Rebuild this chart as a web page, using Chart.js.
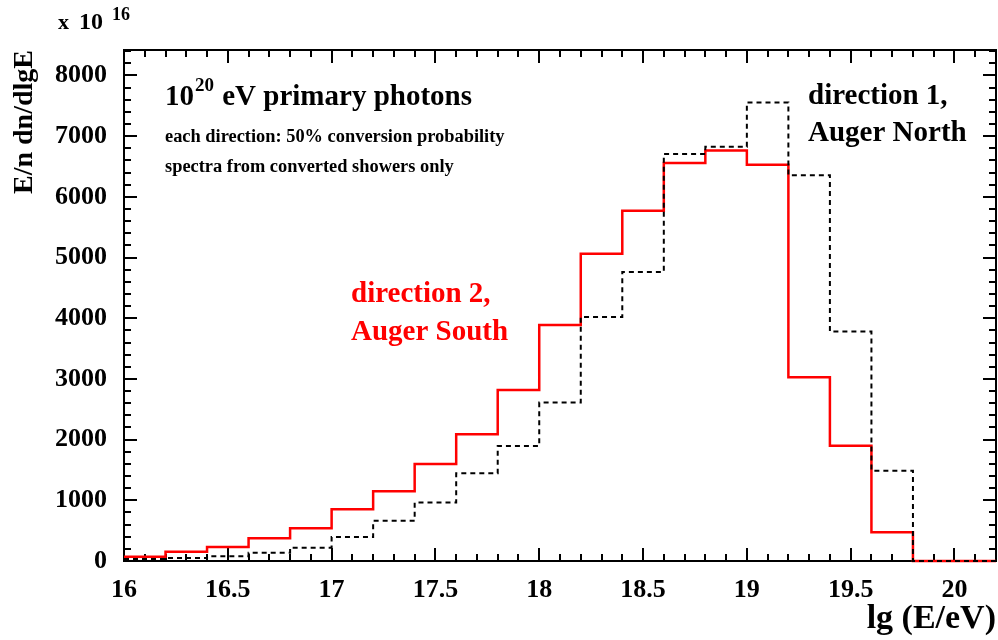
<!DOCTYPE html>
<html>
<head>
<meta charset="utf-8">
<script src="https://cdn.jsdelivr.net/npm/chart.js@4.4.0/dist/chart.umd.min.js"></script>
<style>
html, body { margin: 0; padding: 0; background: #fff; }
</style>
</head>
<body>
<canvas id="spectrum" width="998" height="640"></canvas>
<script>
// bin edges of the histograms (lg E)
const binEdges = [16.0, 16.2, 16.4, 16.6, 16.8, 17.0, 17.2, 17.4, 17.6, 17.8, 18.0,
                  18.2, 18.4, 18.6, 18.8, 19.0, 19.2, 19.4, 19.6, 19.8, 20.0, 20.2];
// direction 1, Auger North (black dashed)
const north = [33, 49, 77, 137, 220, 396, 665, 964, 1445, 1896, 2610,
               4020, 4764, 6705, 6825, 7555, 6358, 3780, 1489, 0, 0];
// direction 2, Auger South (red)
const south = [71, 153, 231, 374, 539, 852, 1149, 1599, 2088, 2819, 3890,
               5061, 5770, 6556, 6764, 6528, 3028, 1901, 473, 0, 0];
const xTickLabels = [16, 16.5, 17, 17.5, 18, 18.5, 19, 19.5, 20];
const yTickLabels = [0, 1000, 2000, 3000, 4000, 5000, 6000, 7000, 8000];

const FONT = '"Liberation Serif", "Times New Roman", serif';

function toSteps(vals) {
    let pts = vals.map(function(v, i) { return { x: binEdges[i], y: v } });
    pts.push({ x: binEdges[binEdges.length - 1], y: vals[vals.length - 1] });
    return pts;
}

// ROOT style frame with ticks pointing inside, on all four sides
const frameTicks = {
    id: 'frameTicks',
    beforeDatasetsDraw(chart) {
        const ctx = chart.ctx;
        const a = chart.chartArea;
        const xs = chart.scales.x, ys = chart.scales.y;
        ctx.save();
        ctx.strokeStyle = '#000';
        ctx.lineWidth = 2;
        ctx.strokeRect(a.left, a.top, a.right - a.left, a.bottom - a.top);
        ctx.beginPath();
        for (let k = 160; k <= 202; k++) {
            let px = Math.round(xs.getPixelForValue(k / 10));
            let len = (k % 5 === 0) ? 13 : 7;
            ctx.moveTo(px, a.bottom); ctx.lineTo(px, a.bottom - len);
            ctx.moveTo(px, a.top); ctx.lineTo(px, a.top + len);
        }
        for (let v = 0; v <= 8400; v += 200) {
            let py = Math.round(ys.getPixelForValue(v));
            let len = (v % 1000 === 0) ? 13 : 7;
            ctx.moveTo(a.left, py); ctx.lineTo(a.left + len, py);
            ctx.moveTo(a.right, py); ctx.lineTo(a.right - len, py);
        }
        ctx.stroke();
        ctx.restore();
    },
    afterDraw(chart) {
        const ctx = chart.ctx;
        ctx.save();
        ctx.textBaseline = 'alphabetic';
        ctx.textAlign = 'left';
        ctx.fillStyle = '#000';

        // x 10^16 multiplier
        ctx.font = 'bold 22px ' + FONT;
        ctx.fillText('x', 58, 29);
        ctx.font = 'bold 24px ' + FONT;
        ctx.fillText('10', 79, 29);
        ctx.font = 'bold 18px ' + FONT;
        ctx.fillText('16', 112, 20);

        // 10^20 eV primary photons
        ctx.font = 'bold 29px ' + FONT;
        ctx.fillText('10', 165, 105);
        let w = ctx.measureText('10').width;
        ctx.font = 'bold 19px ' + FONT;
        ctx.fillText('20', 165 + w + 1, 91);
        let w2 = ctx.measureText('20').width;
        ctx.font = 'bold 29px ' + FONT;
        ctx.fillText(' eV primary photons', 165 + w + w2 + 2, 105);

        ctx.font = 'bold 18.4px ' + FONT;
        ctx.fillText('each direction: 50% conversion probability', 165, 142);
        ctx.fillText('spectra from converted showers only', 165, 172);

        ctx.font = 'bold 29px ' + FONT;
        ctx.fillText('direction 1,', 808, 104);
        ctx.fillText('Auger North', 808, 141);

        ctx.fillStyle = '#ff0000';
        ctx.fillText('direction 2,', 351, 302);
        ctx.fillText('Auger South', 351, 340);
        ctx.restore();
    }
};

new Chart(document.getElementById('spectrum'), {
    type: 'line',
    data: {
        datasets: [
            {
                label: 'direction 1, Auger North',
                data: toSteps(north),
                stepped: 'before',
                borderColor: '#000',
                borderWidth: 2,
                borderDash: [5, 4],
                pointRadius: 0,
                fill: false,
                clip: false,
                order: 1
            },
            {
                label: 'direction 2, Auger South',
                data: toSteps(south),
                stepped: 'before',
                borderColor: '#ff0000',
                borderWidth: 2.5,
                pointRadius: 0,
                fill: false,
                clip: false,
                order: 2
            }
        ]
    },
    options: {
        responsive: false,
        animation: false,
        layout: { padding: { top: 50, right: 2, left: 0, bottom: 0 } },
        plugins: {
            legend: { display: false },
            tooltip: { enabled: false }
        },
        scales: {
            x: {
                type: 'linear',
                min: 16,
                max: 20.2,
                afterBuildTicks: function(scale) {
                    scale.ticks = xTickLabels.map(function(v) { return { value: v } });
                },
                afterFit: function(scale) { scale.height = 79 },
                grid: { display: false },
                border: { display: false },
                ticks: {
                    color: '#000',
                    padding: 6,
                    maxRotation: 0,
                    autoSkip: false,
                    font: { family: FONT, size: 26, weight: 'bold' },
                    callback: function(v) { return String(v) }
                },
                title: {
                    display: true,
                    text: 'lg (E/eV)',
                    align: 'end',
                    color: '#000',
                    padding: { top: 0, bottom: 0 },
                    font: { family: FONT, size: 34, weight: 'bold' }
                }
            },
            y: {
                type: 'linear',
                min: 0,
                max: 8420,
                afterBuildTicks: function(scale) {
                    scale.ticks = yTickLabels.map(function(v) { return { value: v } });
                },
                afterFit: function(scale) { scale.width = 124 },
                grid: { display: false },
                border: { display: false },
                ticks: {
                    color: '#000',
                    padding: 9,
                    autoSkip: false,
                    font: { family: FONT, size: 26, weight: 'bold' },
                    callback: function(v) { return String(v) }
                },
                title: {
                    display: true,
                    text: 'E/n dn/dlgE',
                    align: 'end',
                    color: '#000',
                    padding: { top: 8, bottom: 0 },
                    font: { family: FONT, size: 28, weight: 'bold' }
                }
            }
        }
    },
    plugins: [frameTicks]
});
</script>
</body>
</html>
